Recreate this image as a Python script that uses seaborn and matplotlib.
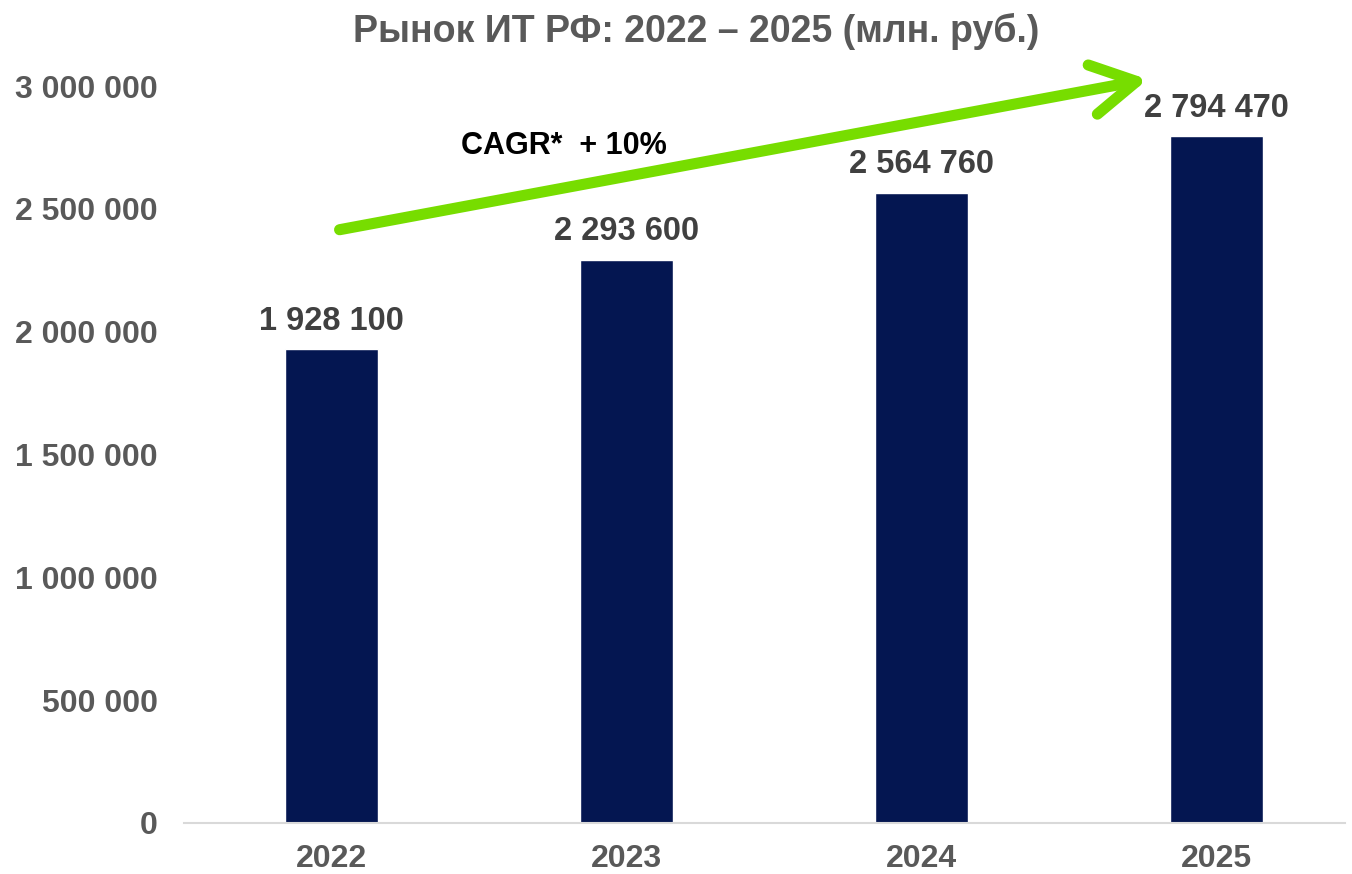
import matplotlib
matplotlib.use("Agg")
import matplotlib.pyplot as plt
import seaborn as sns
import pandas as pd

# data
years = ["2022", "2023", "2024", "2025"]
market = [1928100, 2293600, 2564760, 2794470]
y_ticks = [0, 500000, 1000000, 1500000, 2000000, 2500000, 3000000]

TITLE = "Рынок ИТ РФ: 2022 – 2025 (млн. руб.)"
CAGR_TEXT = "CAGR*  + 10%"

BAR_COLOR = "#041651"
GRAY = "#595959"
LABEL_GRAY = "#404040"
GREEN = "#77DD00"


def fmt(v):
    return f"{v:,}".replace(",", " ")


sns.set_style("white")
plt.rcParams["font.family"] = ["Liberation Sans", "DejaVu Sans"]
plt.rcParams["font.weight"] = "bold"

df = pd.DataFrame({"year": years, "value": market})

fig = plt.figure(figsize=(13.52, 8.74), dpi=100)
ax = fig.add_axes([184 / 1352, 51 / 874, 1161 / 1352, 737 / 874])

sns.barplot(data=df, x="year", y="value", color=BAR_COLOR, width=0.315,
            saturation=1, ax=ax)

ax.set_xlim(-0.5, 3.435)
ax.set_ylim(0, 3000000)
ax.set_yticks(y_ticks)
ax.set_yticklabels([fmt(t) for t in y_ticks], fontsize=23, color=GRAY,
                   fontweight="bold")
ax.set_xticklabels(years, fontsize=23, color=GRAY, fontweight="bold")
ax.tick_params(axis="both", length=0)
ax.tick_params(axis="x", pad=15)
ax.tick_params(axis="y", pad=19)
ax.set_xlabel("")
ax.set_ylabel("")

for s in ["top", "right", "left"]:
    ax.spines[s].set_visible(False)
ax.spines["bottom"].set_color("#d9d9d9")
ax.spines["bottom"].set_linewidth(1.5)

ax.bar_label(ax.containers[0], labels=[fmt(v) for v in market], padding=9,
             fontsize=23.5, color=LABEL_GRAY, fontweight="bold")

fig.text(696 / 1352, 1 - 31 / 874, TITLE, ha="center", va="center",
         fontsize=27, color=GRAY, fontweight="bold")

# growth arrow
ax.annotate("", xy=(0.83, 1.009), xytext=(0.134, 0.805),
            xycoords="axes fraction", textcoords="axes fraction",
            annotation_clip=False,
            arrowprops=dict(arrowstyle="->, head_length=1.6, head_width=0.9",
                            color=GREEN, lw=8, mutation_scale=20,
                            capstyle="round", joinstyle="round",
                            shrinkA=0, shrinkB=0))
ax.text(0.239, 0.918, CAGR_TEXT, transform=ax.transAxes, ha="left",
        va="center", fontsize=22, color="black", fontweight="bold")

fig.savefig("out.png", dpi=100)
